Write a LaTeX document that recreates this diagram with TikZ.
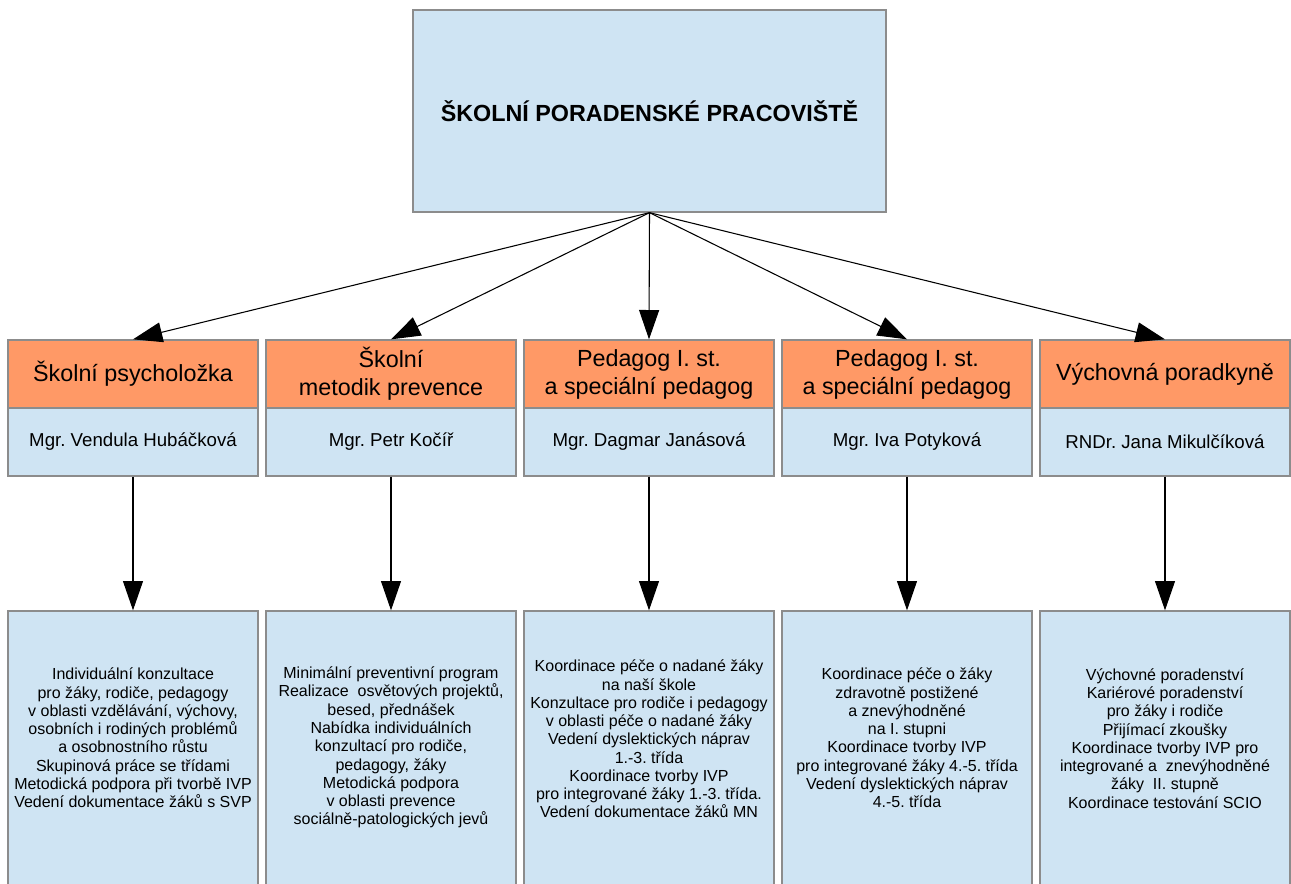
\documentclass[tikz,border=0pt]{standalone}
\usepackage{fontspec}
\setmainfont{Liberation Sans}
\usetikzlibrary{arrows.meta}
\definecolor{hdr}{RGB}{255,153,102}
\definecolor{lblue}{RGB}{207,228,243}
\definecolor{bord}{RGB}{140,140,140}
\frenchspacing
\begin{document}
\begin{tikzpicture}[x=0.75pt,y=-0.75pt,
  box/.style={draw=bord,line width=1pt,fill=lblue,inner sep=0pt,align=center},
  topbox/.style={box,minimum width=354.75pt,minimum height=151.5pt,font=\bfseries\fontsize{17.5}{21}\selectfont},
  hbox/.style={box,fill=hdr,minimum width=187.5pt,minimum height=51pt,font=\fontsize{17.5}{21}\selectfont},
  namebox/.style={box,minimum width=187.5pt,minimum height=51pt,font=\fontsize{14}{17}\selectfont},
  bodybox/.style={box,minimum width=187.5pt,minimum height=216.75pt},
  bodytext/.style={align=center,inner sep=0pt,font=\fontsize{12}{13.7}\selectfont},
  conn/.style={draw=black,line width=0.8pt,-{Triangle[length=22pt,width=15pt]}}]
\useasboundingbox (0,0) rectangle (1291,883);
\node[topbox] (top) at (649.5,111) {ŠKOLNÍ PORADENSKÉ PRACOVIŠTĚ};
% headers
\node[hbox] (h1) at (133,374) {Školní psycholožka};
\node[hbox] (h2) at (391,374) {Školní\\metodik prevence};
\node[hbox] (h3) at (649,374) {Pedagog I. st.\\a speciální pedagog};
\node[hbox] (h4) at (907,374) {Pedagog I. st.\\a speciální pedagog};
\node[hbox] (h5) at (1165,374) {Výchovná poradkyně};
% names
\node[namebox] (n1) at (133,442) {Mgr. Vendula Hubáčková};
\node[namebox] (n2) at (391,442) {Mgr. Petr Kočíř};
\node[namebox] (n3) at (649,442) {Mgr. Dagmar Janásová};
\node[namebox] (n4) at (907,442) {Mgr. Iva Potyková};
\node[namebox] (n5) at (1165,442) {RNDr. Jana Mikulčíková};
% body boxes
\node[bodybox] (b1) at (133,755.5) {};
\node[bodybox] (b2) at (391,755.5) {};
\node[bodybox] (b3) at (649,755.5) {};
\node[bodybox] (b4) at (907,755.5) {};
\node[bodybox] (b5) at (1165,755.5) {};
\node[bodytext] (t1) at (133,738) {Individuální konzultace\\pro žáky, rodiče, pedagogy\\v oblasti vzdělávání, výchovy,\\osobních i rodiných problémů\\a osobnostního růstu\\Skupinová práce se třídami\\Metodická podpora při tvorbě IVP\\Vedení dokumentace žáků s SVP};
\node[bodytext] (t2) at (391,747.5) {Minimální preventivní program\\Realizace \ osvětových projektů,\\besed, přednášek\\Nabídka individuálních\\konzultací pro rodiče,\\pedagogy, žáky\\Metodická podpora\\v oblasti prevence\\sociálně-patologických jevů};
\node[bodytext] (t3) at (649,739) {Koordinace péče o nadané žáky\\na naší škole\\Konzultace pro rodiče i pedagogy\\v oblasti péče o nadané žáky\\Vedení dyslektických náprav\\1.-3. třída\\Koordinace tvorby IVP\\pro integrované žáky 1.-3. třída.\\Vedení dokumentace žáků MN};
\node[bodytext] (t4) at (907,738) {Koordinace péče o žáky\\zdravotně postižené\\a znevýhodněné\\na I. stupni\\Koordinace tvorby IVP\\pro integrované žáky 4.-5. třída\\Vedení dyslektických náprav\\4.-5. třída};
\node[bodytext] (t5) at (1165,738.5) {Výchovné poradenství\\Kariérové poradenství\\pro žáky i rodiče\\Přijímací zkoušky\\Koordinace tvorby IVP pro\\integrované a \ znevýhodněné\\žáky \ II. stupně\\Koordinace testování SCIO};
% connectors
\foreach \i in {1,...,5} {
  \draw[conn] (top.south) -- (h\i.north);
  \draw[conn] (n\i.south) -- (b\i.north);
}
\end{tikzpicture}
\end{document}
